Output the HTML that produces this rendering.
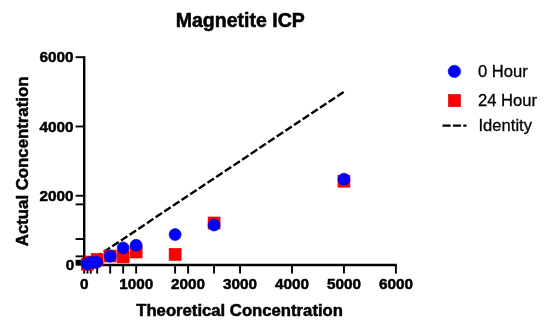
<!DOCTYPE html><html><head><meta charset="utf-8"><style>html,body{margin:0;padding:0;background:#fff;}svg{display:block;will-change:transform;filter:blur(0.3px);}text{font-family:"Liberation Sans",sans-serif;}text.b{stroke:#000;stroke-width:0.5px;}text.r{stroke:#000;stroke-width:0.3px;}</style></head><body>
<svg width="550" height="326" viewBox="0 0 550 326">
<rect width="550" height="326" fill="#fff"/>
<text transform="translate(240.20,26.90) scale(1,1.0)" font-size="19.55" font-weight="bold" class="b" text-anchor="middle" fill="#000">Magnetite ICP</text>
<text transform="translate(27.50,161.40) rotate(-90) scale(1,1.0)" font-size="16.8" font-weight="bold" class="b" text-anchor="middle" fill="#000">Actual Concentration</text>
<text transform="translate(239.60,316.40) scale(1,1.0)" font-size="16.7" font-weight="bold" class="b" text-anchor="middle" fill="#000">Theoretical Concentration</text>
<line x1="84.2" y1="56.25" x2="84.2" y2="266.20" stroke="#000" stroke-width="2.4"/>
<line x1="83.00" y1="265.0" x2="396.85" y2="265.0" stroke="#000" stroke-width="2.4"/>
<line x1="75.60" y1="256.34" x2="84.2" y2="256.34" stroke="#000" stroke-width="1.9"/>
<line x1="75.60" y1="239.03" x2="84.2" y2="239.03" stroke="#000" stroke-width="1.9"/>
<line x1="75.60" y1="204.39" x2="84.2" y2="204.39" stroke="#000" stroke-width="1.9"/>
<line x1="75.60" y1="195.73" x2="84.2" y2="195.73" stroke="#000" stroke-width="1.9"/>
<line x1="75.60" y1="126.47" x2="84.2" y2="126.47" stroke="#000" stroke-width="1.9"/>
<line x1="75.60" y1="57.20" x2="84.2" y2="57.20" stroke="#000" stroke-width="1.9"/>
<rect x="75.60" y="259.8" width="8.6" height="5.9" fill="#000"/>
<line x1="84.20" y1="265.0" x2="84.20" y2="273.60" stroke="#000" stroke-width="1.9"/>
<line x1="87.45" y1="265.0" x2="87.45" y2="273.60" stroke="#000" stroke-width="1.9"/>
<line x1="90.69" y1="265.0" x2="90.69" y2="273.60" stroke="#000" stroke-width="1.9"/>
<line x1="97.19" y1="265.0" x2="97.19" y2="273.60" stroke="#000" stroke-width="1.9"/>
<line x1="110.18" y1="265.0" x2="110.18" y2="273.60" stroke="#000" stroke-width="1.9"/>
<line x1="123.16" y1="265.0" x2="123.16" y2="273.60" stroke="#000" stroke-width="1.9"/>
<line x1="136.15" y1="265.0" x2="136.15" y2="273.60" stroke="#000" stroke-width="1.9"/>
<line x1="175.11" y1="265.0" x2="175.11" y2="273.60" stroke="#000" stroke-width="1.9"/>
<line x1="188.10" y1="265.0" x2="188.10" y2="273.60" stroke="#000" stroke-width="1.9"/>
<line x1="214.07" y1="265.0" x2="214.07" y2="273.60" stroke="#000" stroke-width="1.9"/>
<line x1="240.05" y1="265.0" x2="240.05" y2="273.60" stroke="#000" stroke-width="1.9"/>
<line x1="292.00" y1="265.0" x2="292.00" y2="273.60" stroke="#000" stroke-width="1.9"/>
<line x1="343.95" y1="265.0" x2="343.95" y2="273.60" stroke="#000" stroke-width="1.9"/>
<line x1="395.90" y1="265.0" x2="395.90" y2="273.60" stroke="#000" stroke-width="1.9"/>
<text transform="translate(74.20,270.10) scale(1,1.0)" font-size="15.3" font-weight="bold" class="b" text-anchor="end" fill="#000">0</text>
<text transform="translate(73.60,200.83) scale(1,1.0)" font-size="15.3" font-weight="bold" class="b" text-anchor="end" fill="#000">2000</text>
<text transform="translate(73.60,131.57) scale(1,1.0)" font-size="15.3" font-weight="bold" class="b" text-anchor="end" fill="#000">4000</text>
<text transform="translate(73.60,62.30) scale(1,1.0)" font-size="15.3" font-weight="bold" class="b" text-anchor="end" fill="#000">6000</text>
<text transform="translate(84.20,289.30) scale(1,1.0)" font-size="15.3" font-weight="bold" class="b" text-anchor="middle" fill="#000">0</text>
<text transform="translate(136.15,289.30) scale(1,1.0)" font-size="15.3" font-weight="bold" class="b" text-anchor="middle" fill="#000">1000</text>
<text transform="translate(188.10,289.30) scale(1,1.0)" font-size="15.3" font-weight="bold" class="b" text-anchor="middle" fill="#000">2000</text>
<text transform="translate(240.05,289.30) scale(1,1.0)" font-size="15.3" font-weight="bold" class="b" text-anchor="middle" fill="#000">3000</text>
<text transform="translate(292.00,289.30) scale(1,1.0)" font-size="15.3" font-weight="bold" class="b" text-anchor="middle" fill="#000">4000</text>
<text transform="translate(343.95,289.30) scale(1,1.0)" font-size="15.3" font-weight="bold" class="b" text-anchor="middle" fill="#000">5000</text>
<text transform="translate(395.90,289.30) scale(1,1.0)" font-size="15.3" font-weight="bold" class="b" text-anchor="middle" fill="#000">6000</text>
<line x1="343.7" y1="91.9" x2="84.20" y2="265.00" stroke="#000" stroke-width="2.4" stroke-dasharray="7.7 2.7"/>
<rect x="81.45" y="258.20" width="12.00" height="12.00" fill="#ff0000" stroke="#e00000" stroke-width="0.6"/>
<rect x="84.59" y="256.00" width="12.00" height="12.00" fill="#ff0000" stroke="#e00000" stroke-width="0.6"/>
<rect x="91.19" y="253.50" width="12.00" height="12.00" fill="#ff0000" stroke="#e00000" stroke-width="0.6"/>
<rect x="104.18" y="250.00" width="12.00" height="12.00" fill="#ff0000" stroke="#e00000" stroke-width="0.6"/>
<rect x="117.16" y="250.90" width="12.00" height="12.00" fill="#ff0000" stroke="#e00000" stroke-width="0.6"/>
<rect x="130.15" y="246.00" width="12.00" height="12.00" fill="#ff0000" stroke="#e00000" stroke-width="0.6"/>
<rect x="169.11" y="248.40" width="12.00" height="12.00" fill="#ff0000" stroke="#e00000" stroke-width="0.6"/>
<rect x="208.07" y="217.00" width="12.00" height="12.00" fill="#ff0000" stroke="#e00000" stroke-width="0.6"/>
<rect x="337.95" y="175.20" width="12.00" height="12.00" fill="#ff0000" stroke="#e00000" stroke-width="0.6"/>
<circle cx="87.21" cy="263.90" r="6.00" fill="#0000ff" stroke="#0000c8" stroke-width="0.6"/>
<circle cx="89.40" cy="262.70" r="6.00" fill="#0000ff" stroke="#0000c8" stroke-width="0.6"/>
<circle cx="93.03" cy="262.50" r="6.00" fill="#0000ff" stroke="#0000c8" stroke-width="0.6"/>
<circle cx="96.51" cy="262.30" r="6.00" fill="#0000ff" stroke="#0000c8" stroke-width="0.6"/>
<circle cx="110.18" cy="256.20" r="6.00" fill="#0000ff" stroke="#0000c8" stroke-width="0.6"/>
<circle cx="123.16" cy="247.90" r="6.00" fill="#0000ff" stroke="#0000c8" stroke-width="0.6"/>
<circle cx="136.15" cy="245.30" r="6.00" fill="#0000ff" stroke="#0000c8" stroke-width="0.6"/>
<circle cx="175.11" cy="234.60" r="6.00" fill="#0000ff" stroke="#0000c8" stroke-width="0.6"/>
<circle cx="214.07" cy="225.00" r="6.00" fill="#0000ff" stroke="#0000c8" stroke-width="0.6"/>
<circle cx="343.95" cy="179.20" r="6.00" fill="#0000ff" stroke="#0000c8" stroke-width="0.6"/>
<circle cx="454.4" cy="71.4" r="6.2" fill="#0000ff" stroke="#0000c8" stroke-width="0.6"/>
<rect x="448.4" y="94.5" width="12.2" height="12.2" fill="#ff0000" stroke="#e00000" stroke-width="0.6"/>
<line x1="442.5" y1="125.6" x2="466.5" y2="125.6" stroke="#000" stroke-width="2.2" stroke-dasharray="8.1 2.3"/>
<text transform="translate(478.00,76.80) scale(1,1.0)" font-size="16.6" class="r" text-anchor="start" fill="#000">0 Hour</text>
<text transform="translate(478.00,106.20) scale(1,1.0)" font-size="16.6" class="r" text-anchor="start" fill="#000">24 Hour</text>
<text transform="translate(478.50,131.20) scale(1,1.0)" font-size="16.6" class="r" text-anchor="start" fill="#000">Identity</text>
</svg></body></html>
